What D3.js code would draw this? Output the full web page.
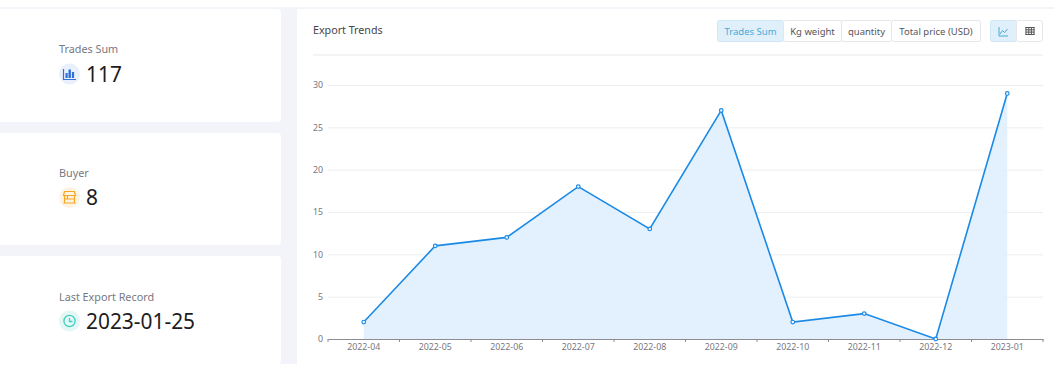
<!DOCTYPE html>
<html>
<head>
<meta charset="utf-8">
<style>
  html, body { margin: 0; padding: 0; background: #fff; overflow: hidden; }
  text { font-family: "Noto Sans", "Open Sans", sans-serif; }
</style>
<script src="https://cdn.jsdelivr.net/npm/d3@7"></script>
</head>
<body>
<div id="chart"></div>
<script>
var width = 1054
var height = 371

var months = ["2022-04","2022-05","2022-06","2022-07","2022-08","2022-09","2022-10","2022-11","2022-12","2023-01"]
var trades = [2,11,12,18,13,27,2,3,0,29]
var yTicks = [0,5,10,15,20,25,30]
var tabs = ["Trades Sum","Kg weight","quantity","Total price (USD)"]
var statLabels = ["Trades Sum","Buyer","Last Export Record"]
var statValues = ["117","8","2023-01-25"]

var svg = d3.select("#chart").append("svg")
    .attr("width", width)
    .attr("height", height)
    .style("display", "block")

// page background, stops short of the bottom edge
svg.append("rect").attr("x",0).attr("y",7).attr("width",width).attr("height",357).attr("fill","#f3f4f9")

// left cards
var cards = [
  {top:9, h:113, labelY:53, valueY:82, iconY:74, bg:"#e9f0fb", fg:"#2f6fd6"},
  {top:133, h:112, labelY:177, valueY:205, iconY:197.5, bg:"#fdf3e3", fg:"#f5a623"},
  {top:256, h:108, labelY:301, valueY:329, iconY:321, bg:"#e3f7f5", fg:"#3fcfc0"}
]
cards.forEach((c,i) => {
  svg.append("rect").attr("x",-10).attr("y",c.top).attr("width",291).attr("height",c.h).attr("rx",4).attr("fill","#fff")
  svg.append("text").attr("x",59).attr("y",c.labelY).attr("font-size",10.8).attr("fill","#77777f").text(statLabels[i])
  svg.append("circle").attr("cx",69.5).attr("cy",c.iconY).attr("r",10.5).attr("fill",c.bg)
  svg.append("text").attr("x",86).attr("y",c.valueY).attr("font-size",20.9).attr("fill","#1c1c22").text(statValues[i])
})

// icons
var ic1 = svg.append("g").attr("transform","translate(69.5,74)").attr("fill",cards[0].fg)
ic1.append("path").attr("d","M-6,-5V5.5H6.5").attr("fill","none").attr("stroke",cards[0].fg).attr("stroke-width",1.2)
;[[-4,-1,2.2,5],[-1,-4.5,2.4,8.5],[2.4,-2,2.2,6]].forEach(b => {
  ic1.append("rect").attr("x",b[0]).attr("y",b[1]).attr("width",b[2]).attr("height",b[3])
})
var ic2 = svg.append("g").attr("transform","translate(69.5,197.5)").attr("fill","none").attr("stroke",cards[1].fg).attr("stroke-width",1.2)
ic2.append("path").attr("d","M-5,-6H5L6,-2H-6ZM-5,-2V5M5,-2V5M-6,5.5H6M-5,1.5H5M-2,-2V1.5")
var ic3 = svg.append("g").attr("transform","translate(69.5,321)").attr("fill","none").attr("stroke",cards[2].fg).attr("stroke-width",1.3)
ic3.append("circle").attr("r",5.6)
ic3.append("path").attr("d","M0,-3V.5H3")

// chart card
svg.append("rect").attr("x",297).attr("y",9).attr("width",757).attr("height",355).attr("fill","#fff")
svg.append("text").attr("x",313).attr("y",34).attr("font-size",10.7).attr("fill","#44444c").text("Export Trends")
svg.append("line").attr("x1",313).attr("x2",1043).attr("y1",55).attr("y2",55).attr("stroke","#f0f0f2").attr("stroke-width",1.5)

// tabs
var tabEdges = [717,783,841,891,980]
tabs.forEach((t,i) => {
  svg.append("rect").attr("x",tabEdges[i]+.5).attr("y",20.5).attr("width",tabEdges[i+1]-tabEdges[i]).attr("height",21)
    .attr("fill", i==0 ? "#dff0fa" : "#fff").attr("stroke", i==0 ? "#cfe6f3" : "#e6e6ea").attr("rx",2)
  svg.append("text").attr("x",(tabEdges[i]+tabEdges[i+1])/2+.5).attr("y",35).attr("text-anchor","middle")
    .attr("font-size",9.5).attr("fill", i==0 ? "#4aa8d8" : "#55555c").text(t)
})
svg.append("rect").attr("x",990.5).attr("y",20.5).attr("width",26).attr("height",21).attr("rx",2).attr("fill","#dff0fa").attr("stroke","#cfe6f3")
svg.append("rect").attr("x",1016.5).attr("y",20.5).attr("width",26).attr("height",21).attr("rx",2).attr("fill","#fff").attr("stroke","#e6e6ea")
svg.append("path").attr("d","M999,27V36H1008M1000,34L1002.5,30.5L1004.5,32.5L1007.5,29").attr("fill","none").attr("stroke","#4aa8d8")
svg.append("path").attr("d","M1025.5,27.5H1034.5M1025.5,29.8H1034.5M1025.5,32.1H1034.5M1025.5,34.5H1034.5M1026,27V35M1028.8,27V35M1031.4,27V35M1034,27V35").attr("fill","none").attr("stroke","#555")

// plot
const margin = {top:85,right:11,left:328,bottom:32}
const innerWidth = width - margin.left - margin.right
const innerHeight = height - margin.top - margin.bottom

const xScale = d3.scaleBand().domain(months).range([0,innerWidth])
const yScale = d3.scaleLinear().domain([0,30]).range([innerHeight,0])
const xCenter = d => xScale(d) + xScale.bandwidth()/2

const g = svg.append("g").attr("transform",`translate(${margin.left},${margin.top})`)

const yAxis = g.append("g").call(d3.axisLeft(yScale).tickValues(yTicks).tickSize(-innerWidth).tickPadding(5))
yAxis.select(".domain").remove()
yAxis.selectAll("line").attr("stroke","#ecedf0")
yAxis.selectAll("text").attr("font-size",8.8).attr("fill","#77777f").attr("font-family",'"Noto Sans", sans-serif')

const area = d3.area().x((d,i) => xCenter(months[i])).y0(innerHeight).y1(d => yScale(d))
g.append("path").datum(trades).attr("d",area).attr("fill","#e0f0fe").attr("fill-opacity",.9)

const xAxis = g.append("g").attr("transform",`translate(0,${innerHeight})`)
    .call(d3.axisBottom(xScale).tickSize(0).tickPadding(5))
xAxis.select(".domain").attr("stroke","#8c8c92").attr("stroke-width",1)
xAxis.selectAll("text").attr("font-size",8.8).attr("fill","#77777f").attr("font-family",'"Noto Sans", sans-serif')
// ticks sit on the band edges
g.selectAll(".edge").data(months.concat(null)).enter().append("line").attr("class","edge")
  .attr("x1",(d,i) => xScale.step()*i).attr("x2",(d,i) => xScale.step()*i)
  .attr("y1",innerHeight).attr("y2",innerHeight+3).attr("stroke","#8c8c92")

const line = d3.line().x((d,i) => xCenter(months[i])).y(d => yScale(d))
g.append("path").datum(trades).attr("d",line).attr("fill","none").attr("stroke","#1a8ae6").attr("stroke-width",1.6)

g.selectAll(".dot").data(trades).enter().append("circle").attr("class","dot")
  .attr("cx",(d,i) => xCenter(months[i])).attr("cy",d => yScale(d)).attr("r",1.8)
  .attr("fill","#fff").attr("stroke","#1a8ae6").attr("stroke-width",1.2)
</script>
</body>
</html>
